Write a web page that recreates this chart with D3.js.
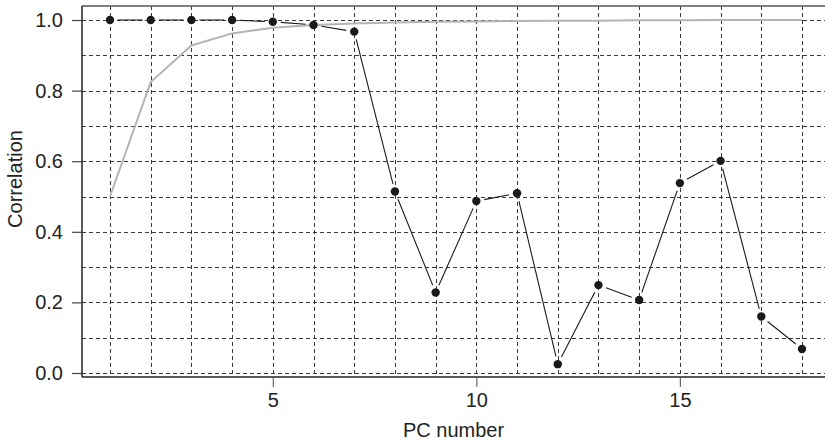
<!DOCTYPE html>
<html>
<head>
<meta charset="utf-8">
<script src="https://cdn.jsdelivr.net/npm/d3@7"></script>
<style>
  html, body { margin: 0; padding: 0; background: #fff; }
  svg { display: block; font-family: "Liberation Sans", Arial, Helvetica, sans-serif; }
</style>
</head>
<body>
<svg id="chart" width="825" height="443"></svg>
<script>
// PC index and correlation values
const pcNumbers = [1, 2, 3, 4, 5, 6, 7, 8, 9, 10, 11, 12, 13, 14, 15, 16, 17, 18];
const correlation = [1.0, 1.0, 1.0, 1.0, 0.995, 0.986, 0.967, 0.514, 0.228, 0.487, 0.509, 0.025,
                     0.249, 0.207, 0.538, 0.601, 0.160, 0.068];
const cumulative = [0.50, 0.824, 0.928, 0.962, 0.978, 0.986, 0.990, 0.993, 0.995, 0.996,
                    0.997, 0.998, 0.998, 0.999, 0.999, 1.0, 1.0, 1.0];
const xTickValues = [5, 10, 15];
const yTickValues = [0.0, 0.2, 0.4, 0.6, 0.8, 1.0];
const yGridValues = [0.0, 0.1, 0.2, 0.3, 0.4, 0.5, 0.6, 0.7, 0.8, 0.9, 1.0];

const svg = d3.select("#chart");
const W = 825;
const plotLeft = 82, plotTop = 6, plotBottom = 377;
const fontSize = 20;

const x = d3.scaleLinear().domain([1, 18]).range([110, 802]);
const y = d3.scaleLinear().domain([0, 1]).range([373, 20]);

// dashed grid
const grid = svg.append("g").attr("stroke", "#3a3a3a").attr("stroke-width", 1)
  .attr("stroke-dasharray", "4,3").attr("fill", "none");
grid.selectAll("line.h").data(yGridValues).join("line")
  .attr("class", "h")
  .attr("x1", plotLeft).attr("x2", W)
  .attr("y1", d => Math.round(y(d)) + 0.5).attr("y2", d => Math.round(y(d)) + 0.5);
grid.selectAll("line.v").data(pcNumbers).join("line")
  .attr("class", "v")
  .attr("x1", d => Math.round(x(d)) + 0.5).attr("x2", d => Math.round(x(d)) + 0.5)
  .attr("y1", plotTop).attr("y2", plotBottom);

// frame: top and bottom run to the edge, left is the y axis
svg.append("line").attr("x1", plotLeft).attr("x2", W).attr("y1", plotTop).attr("y2", plotTop)
  .attr("stroke", "#555").attr("stroke-width", 1.5);
svg.append("line").attr("x1", plotLeft).attr("x2", W).attr("y1", plotBottom).attr("y2", plotBottom)
  .attr("stroke", "#222").attr("stroke-width", 1.5);
svg.append("line").attr("x1", plotLeft).attr("x2", plotLeft).attr("y1", plotTop).attr("y2", plotBottom)
  .attr("stroke", "#222").attr("stroke-width", 1.5);

// y axis ticks and labels
const yAxis = d3.axisLeft(y).tickValues(yTickValues).tickFormat(d3.format(".1f"))
  .tickSize(10).tickPadding(9);
const gy = svg.append("g").attr("transform", `translate(${plotLeft},0)`).call(yAxis);
gy.select(".domain").remove();
gy.selectAll(".tick line").attr("stroke", "#444").attr("stroke-width", 1.2);
gy.selectAll(".tick text").attr("font-size", fontSize).attr("fill", "#222")
  .attr("font-family", '"Liberation Sans", Arial, sans-serif');

// x axis ticks and labels
const xAxis = d3.axisBottom(x).tickValues(xTickValues).tickFormat(d3.format("d"))
  .tickSize(10).tickPadding(6);
const gx = svg.append("g").attr("transform", `translate(0,${plotBottom})`).call(xAxis);
gx.select(".domain").remove();
gx.selectAll(".tick line").attr("stroke", "#666").attr("stroke-width", 1.2);
gx.selectAll(".tick text").attr("font-size", fontSize).attr("fill", "#222")
  .attr("font-family", '"Liberation Sans", Arial, sans-serif');

// axis titles
svg.append("text").attr("x", (plotLeft + W) / 2).attr("y", 437).attr("text-anchor", "middle")
  .attr("font-size", fontSize).attr("fill", "#222").text("PC number");
svg.append("text").attr("transform", "translate(22,179) rotate(-90)")
  .attr("text-anchor", "middle").attr("font-size", fontSize).attr("fill", "#222").text("Correlation");

// cumulative curve (grey)
svg.append("path")
  .datum(pcNumbers.map((p, i) => [p, cumulative[i]]))
  .attr("fill", "none").attr("stroke", "#b4b4b4").attr("stroke-width", 2)
  .attr("d", d3.line().x(d => x(d[0])).y(d => y(d[1])));

// correlation: points joined by segments that stop short of each point
const pts = pcNumbers.map((p, i) => ({ px: x(p), py: y(correlation[i]) }));
const gap = 8;
const segs = [];
for (let i = 0; i < pts.length - 1; i++) {
  const a = pts[i], b = pts[i + 1];
  const dx = b.px - a.px, dy = b.py - a.py;
  const len = Math.hypot(dx, dy);
  if (len > 2 * gap) {
    const ux = dx / len, uy = dy / len;
    segs.push({ x1: a.px + ux * gap, y1: a.py + uy * gap, x2: b.px - ux * gap, y2: b.py - uy * gap });
  }
}
svg.append("g").selectAll("line").data(segs).join("line")
  .attr("x1", d => d.x1).attr("y1", d => d.y1).attr("x2", d => d.x2).attr("y2", d => d.y2)
  .attr("stroke", "#1a1a1a").attr("stroke-width", 1.1);
svg.append("g").selectAll("circle").data(pts).join("circle")
  .attr("cx", d => d.px).attr("cy", d => d.py).attr("r", 4.2).attr("fill", "#1a1a1a");
</script>
</body>
</html>
